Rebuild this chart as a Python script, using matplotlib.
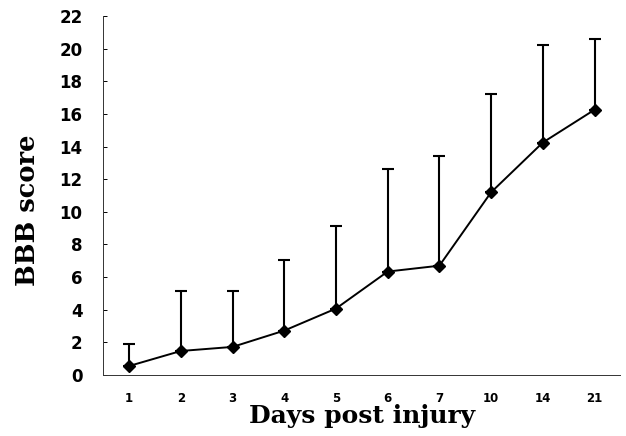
import matplotlib
matplotlib.use("Agg")
import matplotlib.pyplot as plt
import numpy as np

days = ["1", "2", "3", "4", "5", "6", "7", "10", "14", "21"]
bbb_mean = [0.55, 1.47, 1.72, 2.72, 4.07, 6.34, 6.70, 11.2, 14.25, 16.26]
bbb_sd = [1.35, 3.70, 3.41, 4.33, 5.07, 6.26, 6.75, 6.0, 6.01, 4.34]
yticks = [0, 2, 4, 6, 8, 10, 12, 14, 16, 18, 20, 22]

fig = plt.figure(figsize=(6.26, 4.36), dpi=100)
ax = fig.add_axes([0.165, 0.14, 0.826, 0.823])

x = np.arange(len(days))
ax.errorbar(x, bbb_mean, yerr=[np.zeros(len(bbb_sd)), bbb_sd], fmt="none",
            ecolor="black", elinewidth=1.5, capsize=4.5, capthick=1.5)
ax.plot(x, bbb_mean, color="black", lw=1.4, marker="D", markersize=6,
        markerfacecolor="black", markeredgecolor="black")

ax.set_xlim(-0.5, len(days) - 0.5)
ax.set_ylim(0, 22)
ax.set_xticks(x)
ax.set_xticklabels(days, fontfamily="DejaVu Sans", fontweight="bold", fontsize=8.5)
ax.set_yticks(yticks)
ax.set_yticklabels([str(v) for v in yticks], fontfamily="DejaVu Sans",
                   fontweight="bold", fontsize=12)
ax.tick_params(axis="x", length=0, pad=12)
ax.tick_params(axis="y", direction="in", length=3, width=0.7, pad=15)

for s in ["top", "right"]:
    ax.spines[s].set_visible(False)
for s in ["left", "bottom"]:
    ax.spines[s].set_linewidth(0.7)
    ax.spines[s].set_color("#333333")

ax.set_xlabel("Days post injury", fontfamily="DejaVu Serif", fontweight="bold",
              fontsize=18)
ax.xaxis.set_label_coords(0.5, -0.08)
ax.set_ylabel("BBB score", fontfamily="DejaVu Serif", fontweight="bold",
              fontsize=18.5)
ax.yaxis.set_label_coords(-0.122, 0.46)

fig.savefig("out.png", dpi=100)
